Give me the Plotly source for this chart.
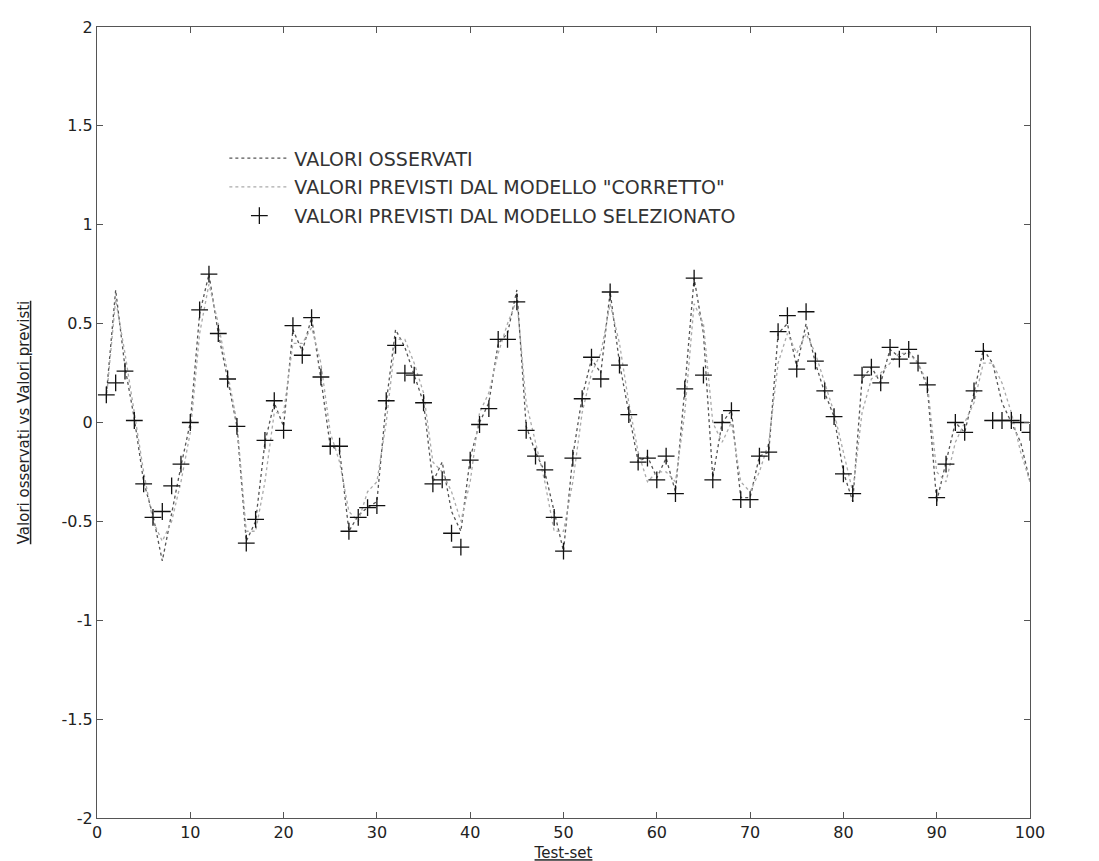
import plotly.graph_objects as go

t_values = list(range(1, 101))

osservati = [
    0.14, 0.67, 0.28, 0.02, -0.30, -0.47, -0.70, -0.45, -0.22, 0.00,
    0.55, 0.75, 0.45, 0.22, -0.02, -0.60, -0.50, -0.10, 0.10, -0.02,
    0.47, 0.36, 0.53, 0.22, -0.12, -0.14, -0.55, -0.47, -0.43, -0.40,
    0.10, 0.47, 0.38, 0.24, 0.10, -0.30, -0.20, -0.45, -0.55, -0.18,
    0.00, 0.10, 0.40, 0.45, 0.67, -0.02, -0.15, -0.25, -0.45, -0.65,
    -0.17, 0.13, 0.32, 0.25, 0.66, 0.30, 0.05, -0.20, -0.17, -0.28,
    -0.18, -0.35, 0.17, 0.73, 0.45, -0.28, 0.00, 0.06, -0.38, -0.38,
    -0.17, -0.15, 0.45, 0.50, 0.28, 0.50, 0.30, 0.15, 0.03, -0.25,
    -0.40, 0.22, 0.28, 0.20, 0.37, 0.33, 0.36, 0.30, 0.18, -0.40,
    -0.20, 0.00, -0.05, 0.15, 0.37, 0.30, 0.10, 0.00, -0.10, -0.30,
]

corretto = [
    0.12, 0.62, 0.35, 0.05, -0.25, -0.50, -0.60, -0.50, -0.30, -0.05,
    0.45, 0.70, 0.50, 0.25, 0.00, -0.55, -0.55, -0.30, 0.05, 0.05,
    0.40, 0.40, 0.48, 0.30, -0.05, -0.20, -0.45, -0.50, -0.35, -0.30,
    0.00, 0.42, 0.42, 0.30, 0.15, -0.20, -0.25, -0.35, -0.50, -0.30,
    0.05, 0.15, 0.35, 0.50, 0.62, 0.10, -0.10, -0.30, -0.55, -0.55,
    -0.30, 0.05, 0.25, 0.35, 0.60, 0.40, 0.10, -0.15, -0.30, -0.25,
    -0.25, -0.30, 0.05, 0.60, 0.50, 0.00, -0.10, 0.00, -0.30, -0.35,
    -0.25, -0.10, 0.30, 0.45, 0.35, 0.45, 0.35, 0.20, 0.05, -0.15,
    -0.35, 0.05, 0.22, 0.25, 0.30, 0.35, 0.35, 0.30, 0.20, -0.25,
    -0.30, -0.10, 0.00, 0.10, 0.30, 0.30, 0.20, 0.05, -0.15, -0.30,
]

selezionato = [
    0.14, 0.20, 0.26, 0.01, -0.31, -0.48, -0.45, -0.32, -0.21, 0.00,
    0.57, 0.75, 0.45, 0.22, -0.02, -0.61, -0.49, -0.09, 0.11, -0.04,
    0.49, 0.34, 0.53, 0.23, -0.12, -0.12, -0.55, -0.48, -0.43, -0.42,
    0.11, 0.39, 0.25, 0.24, 0.10, -0.31, -0.29, -0.56, -0.63, -0.19,
    -0.01, 0.07, 0.42, 0.42, 0.61, -0.04, -0.17, -0.24, -0.48, -0.65,
    -0.18, 0.12, 0.33, 0.22, 0.66, 0.29, 0.04, -0.20, -0.18, -0.29,
    -0.17, -0.36, 0.17, 0.73, 0.24, -0.29, 0.00, 0.06, -0.39, -0.39,
    -0.17, -0.15, 0.46, 0.54, 0.27, 0.56, 0.31, 0.16, 0.03, -0.26,
    -0.36, 0.24, 0.28, 0.20, 0.38, 0.32, 0.37, 0.30, 0.19, -0.38,
    -0.21, 0.00, -0.05, 0.16, 0.36, 0.01, 0.01, 0.01, 0.00, -0.05,
]

x_ticks = [0, 10, 20, 30, 40, 50, 60, 70, 80, 90, 100]
y_ticks = [-2, -1.5, -1, -0.5, 0, 0.5, 1, 1.5, 2]
y_tick_text = ["-2", "-1.5", "-1", "-0.5", "0", "0.5", "1", "1.5", "2"]

FONT = "DejaVu Sans"

fig = go.Figure()
fig.add_trace(go.Scatter(
    x=t_values, y=osservati, mode="lines", name="VALORI OSSERVATI",
    line=dict(color="#555555", width=1.3, dash="dot"), legendgroup="a",
))
fig.add_trace(go.Scatter(
    x=t_values, y=corretto, mode="lines", name='VALORI PREVISTI DAL MODELLO "CORRETTO"',
    line=dict(color="#aaaaaa", width=1.3, dash="dot"), legendgroup="b",
))
fig.add_trace(go.Scatter(
    x=t_values, y=selezionato, mode="markers", name="VALORI PREVISTI DAL MODELLO SELEZIONATO",
    marker=dict(symbol="cross-thin", size=12, line=dict(color="#111111", width=1.3)),
    legendgroup="c",
))

axis_common = dict(
    showline=True, linecolor="#555555", linewidth=1, mirror="ticks",
    ticks="inside", ticklen=6, tickcolor="#555555", showgrid=False, zeroline=False,
    tickfont=dict(family=FONT, size=16, color="#222222"),
)

fig.update_layout(
    width=1099, height=861,
    paper_bgcolor="white", plot_bgcolor="white",
    margin=dict(l=89, r=77, t=10, b=51),
    showlegend=True,
    legend=dict(
        x=0.1365, y=0.858, xanchor="left", yanchor="top",
        bgcolor="rgba(0,0,0,0)", borderwidth=0,
        font=dict(family=FONT, size=19, color="#333333"),
        traceorder="grouped", tracegroupgap=1, itemwidth=60,
    ),
    xaxis=dict(
        range=[0, 100], tickvals=x_ticks, **axis_common,
        title=dict(text="<u>Test-set</u>", font=dict(family=FONT, size=15, color="#222222"), standoff=6),
    ),
    yaxis=dict(
        range=[-2, 2], tickvals=y_ticks, ticktext=y_tick_text, **axis_common,
        title=dict(text="<u>Valori osservati vs Valori previsti</u>",
                   font=dict(family=FONT, size=15, color="#222222"), standoff=28),
    ),
)

fig.write_html("out.html")
